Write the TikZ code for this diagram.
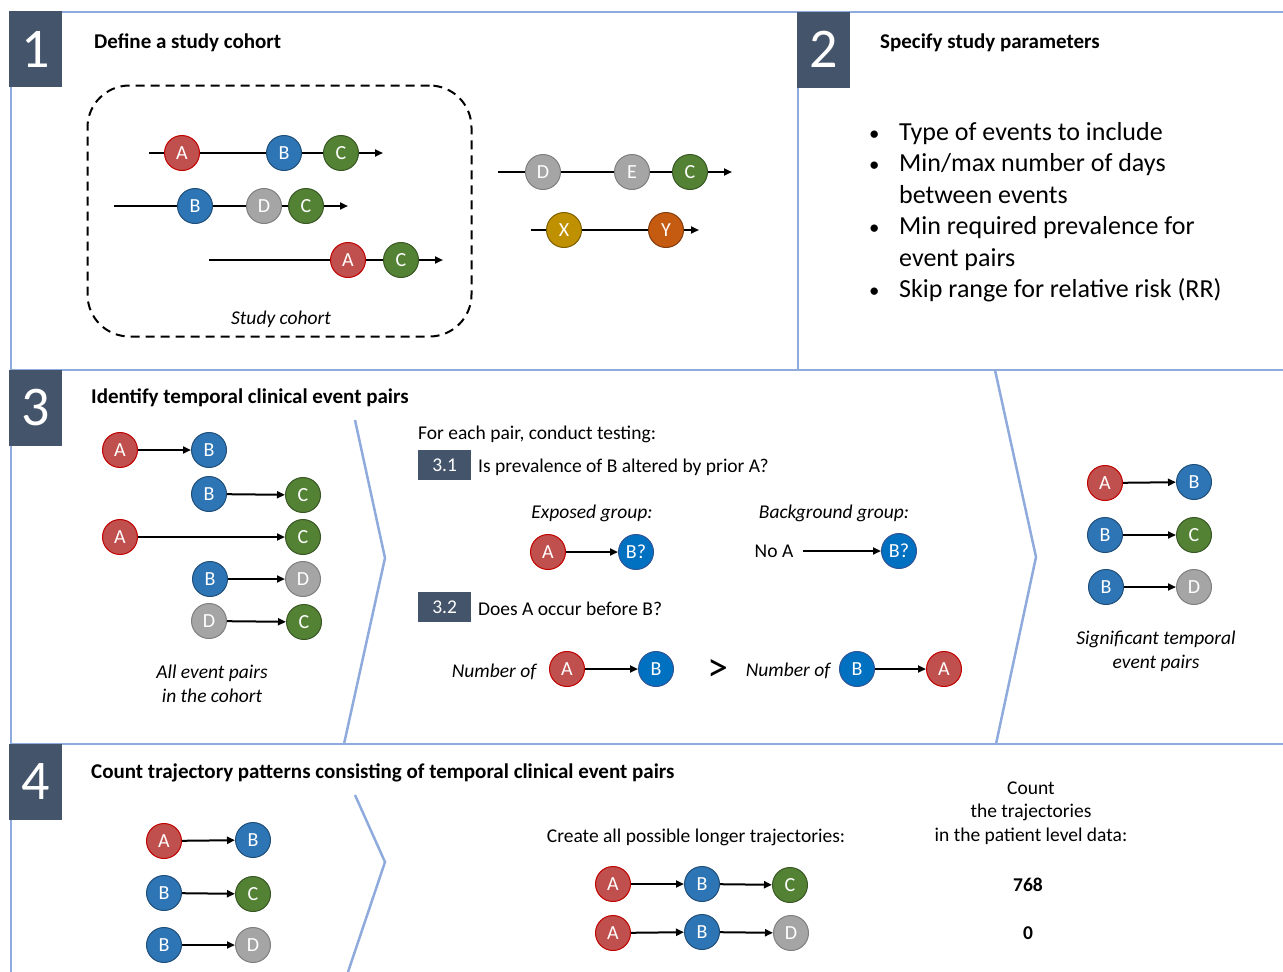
\documentclass[tikz,border=0pt]{standalone}
\usepackage{fontspec}
\setmainfont{Carlito}
\usetikzlibrary{arrows.meta}

\definecolor{panel line}{HTML}{8FAADC}
\definecolor{num box}{HTML}{44546A}
\definecolor{ev red}{HTML}{C0504D}
\definecolor{ev red edge}{HTML}{C00000}
\definecolor{ev blue}{HTML}{2E75B6}
\definecolor{ev blue edge}{HTML}{1F4E79}
\definecolor{ev bright}{HTML}{0070C0}
\definecolor{ev bright edge}{HTML}{2F5597}
\definecolor{ev green}{HTML}{548235}
\definecolor{ev green edge}{HTML}{385723}
\definecolor{ev grey}{HTML}{A5A5A5}
\definecolor{ev grey edge}{HTML}{7F7F7F}
\definecolor{ev gold}{HTML}{BF9000}
\definecolor{ev gold edge}{HTML}{7F6000}
\definecolor{ev orange}{HTML}{C55A11}
\definecolor{ev orange edge}{HTML}{843C0C}

\tikzset{panel/.style={draw=panel line, line width=2.5pt},
    numbox/.style={fill=num box, text=white, minimum width=53pt, minimum height=76pt,
      inner sep=0pt, font=\fontsize{56}{56}\selectfont},
    subbox/.style={fill=num box, text=white, minimum width=53pt, minimum height=30pt,
      inner sep=0pt, font=\fontsize{19.5}{20}\selectfont},
    heading/.style={anchor=west, inner sep=0pt, yshift=-2pt, font=\bfseries\fontsize{21}{25}\selectfont},
    body/.style={inner sep=0pt, yshift=-2pt, font=\fontsize{19.5}{23.5}\selectfont},
    note/.style={inner sep=0pt, yshift=-2pt, align=center, font=\itshape\fontsize{19.5}{24}\selectfont},
    evnode/.style={circle, minimum size=35pt, inner sep=0pt, line width=1pt, text=white,
      font=\fontsize{20}{20}\selectfont},
    evA/.style={evnode, fill=ev red, draw=ev red edge},
    evB/.style={evnode, fill=ev blue, draw=ev blue edge},
    evBq/.style={evnode, fill=ev bright, draw=ev bright edge},
    evC/.style={evnode, fill=ev green, draw=ev green edge},
    evD/.style={evnode, fill=ev grey, draw=ev grey edge},
    evX/.style={evnode, fill=ev gold, draw=ev gold edge},
    evY/.style={evnode, fill=ev orange, draw=ev orange edge},
    link/.style={line width=2pt, -{Triangle[length=8pt,width=7pt]}}}

\begin{document}
\begin{tikzpicture}[x=1pt,y=-1pt]
    \useasboundingbox (0,0) rectangle (1283,972);
    % panel frames
    \draw[panel] (11,972) -- (11,12) -- (1283,12);
    \draw[panel] (798,12) -- (798,370);
    \draw[panel] (11,370) -- (1283,370);
    \draw[panel] (11,744) -- (1283,744);
    \draw[panel] (355,420) -- (385,558) -- (344,744);
    \draw[panel] (995,370) -- (1036,557) -- (996,744);
    \draw[panel] (355,795) -- (385,862) -- (348,972);
    \node[numbox] (n1) at (35.5,49) {1};
    \node[numbox] (n2) at (823.5,49.5) {2};
    \node[numbox] (n3) at (35.5,408) {3};
    \node[numbox] (n4) at (35.5,782) {4};

    % 1: study cohort
    \node[heading] (t1) at (94,41) {Define a study cohort};
    \node[draw, dashed, dash pattern=on 9pt off 6pt, line width=2pt, rounded corners=42pt,
      minimum width=384pt, minimum height=251pt] (cohort) at (279.5,211) {};
    \node[note] (cohortlbl) at (281,317) {Study cohort};
    \coordinate (p1s) at (149,153); \coordinate (p1e) at (383,153);
    \node[evA] (p1a) at (182,153) {A};
    \node[evB] (p1b) at (284,153) {B};
    \node[evC] (p1c) at (341,153) {C};
    \draw[link] (p1s) -- (p1a) -- (p1b) -- (p1c) -- (p1e);
    \coordinate (p2s) at (114,206); \coordinate (p2e) at (348,206);
    \node[evB] (p2b) at (195,206) {B};
    \node[evD] (p2d) at (264,206) {D};
    \node[evC] (p2c) at (306,206) {C};
    \draw[link] (p2s) -- (p2b) -- (p2d) -- (p2c) -- (p2e);
    \coordinate (p3s) at (209,260); \coordinate (p3e) at (443,260);
    \node[evA] (p3a) at (348,260) {A};
    \node[evC] (p3c) at (401,260) {C};
    \draw[link] (p3s) -- (p3a) -- (p3c) -- (p3e);
    \coordinate (p4s) at (498,172); \coordinate (p4e) at (732,172);
    \node[evD] (p4d) at (543,172) {D};
    \node[evD] (p4e2) at (632,172) {E};
    \node[evC] (p4c) at (690,172) {C};
    \draw[link] (p4s) -- (p4d) -- (p4e2) -- (p4c) -- (p4e);
    \coordinate (p5s) at (531,230); \coordinate (p5e) at (699,230);
    \node[evX] (p5x) at (564,230) {X};
    \node[evY] (p5y) at (666,230) {Y};
    \draw[link] (p5s) -- (p5x) -- (p5y) -- (p5e);

    % 2: parameters
    \node[heading] (t2) at (880,41) {Specify study parameters};
    \node[anchor=west, inner sep=0pt, font=\fontsize{26}{31.5}\selectfont] (params) at (869,212.5)
      {\begin{tabular}{@{}p{30pt}@{}l@{}}
        \scalebox{0.8}{\textbullet} & Type of events to include\\
        \scalebox{0.8}{\textbullet} & Min/max number of days\\
         & between events\\
        \scalebox{0.8}{\textbullet} & Min required prevalence for\\
         & event pairs\\
        \scalebox{0.8}{\textbullet} & Skip range for relative risk (RR)
      \end{tabular}};

    % 3: event pairs
    \node[heading] (t3) at (91,396) {Identify temporal clinical event pairs};
    \node[evA] (l1a) at (120,450) {A};
    \node[evB] (l1b) at (209,450) {B};
    \node[evB] (l2b) at (209,494) {B};
    \node[evC] (l2c) at (303,495) {C};
    \node[evA] (l3a) at (120,537) {A};
    \node[evC] (l3c) at (303,537) {C};
    \node[evB] (l4b) at (210,579) {B};
    \node[evD] (l4d) at (303,579) {D};
    \node[evD] (l5d) at (209,621) {D};
    \node[evC] (l5c) at (304,622) {C};
    \draw[link] (l1a) -- (l1b);
    \draw[link] (l2b) -- (l2c);
    \draw[link] (l3a) -- (l3c);
    \draw[link] (l4b) -- (l4d);
    \draw[link] (l5d) -- (l5c);
    \node[note] (alllbl) at (212,682) {All event pairs\\in the cohort};

    \node[body, anchor=west] (foreach) at (418,432) {For each pair, conduct testing:};
    \node[subbox, anchor=west] (q1) at (418,465) {3.1};
    \node[body, anchor=west] (q1txt) at (478,465) {Is prevalence of B altered by prior A?};
    \node[note] (exposed) at (592,511) {Exposed group:};
    \node[note] (backgr) at (834,511) {Background group:};
    \node[evA] (xa) at (548,552) {A};
    \node[evBq] (xb) at (636,552) {B?};
    \draw[link] (xa) -- (xb);
    \node[body] (noa) at (774,549) {No A};
    \node[evBq] (gb) at (899,551) {B?};
    \draw[link, shorten <=10pt] (noa) -- (gb);
    \node[subbox, anchor=west] (q2) at (418,607) {3.2};
    \node[body, anchor=west] (q2txt) at (478,607) {Does A occur before B?};
    \node[note] (num1) at (494,670) {Number of};
    \node[evA] (fa) at (567,669) {A};
    \node[evBq] (fb) at (656,669) {B};
    \draw[link] (fa) -- (fb);
    \node[inner sep=0pt, font=\fontsize{42}{42}\selectfont] (gt) at (718,670) {>};
    \node[note] (num2) at (788,669) {Number of};
    \node[evBq] (rb) at (857,669) {B};
    \node[evA] (ra) at (944,669) {A};
    \draw[link] (rb) -- (ra);

    \node[evA] (s1a) at (1105,483) {A};
    \node[evB] (s1b) at (1194,482) {B};
    \node[evB] (s2b) at (1105,535) {B};
    \node[evC] (s2c) at (1194,535) {C};
    \node[evB] (s3b) at (1106,587) {B};
    \node[evD] (s3d) at (1194,587) {D};
    \draw[link] (s1a) -- (s1b);
    \draw[link] (s2b) -- (s2c);
    \draw[link] (s3b) -- (s3d);
    \node[note] (siglbl) at (1156,649) {Significant temporal\\event pairs};

    % 4: trajectories
    \node[heading] (t4) at (91,771) {Count trajectory patterns consisting of temporal clinical event pairs};
    \node[evA] (k1a) at (164,841) {A};
    \node[evB] (k1b) at (253,840) {B};
    \node[evB] (k2b) at (164,893) {B};
    \node[evC] (k2c) at (253,894) {C};
    \node[evB] (k3b) at (164,945) {B};
    \node[evD] (k3d) at (253,945) {D};
    \draw[link] (k1a) -- (k1b);
    \draw[link] (k2b) -- (k2c);
    \draw[link] (k3b) -- (k3d);
    \node[body] (create) at (696,835) {Create all possible longer trajectories:};
    \node[evA] (j1a) at (613,884) {A};
    \node[evB] (j1b) at (702,884) {B};
    \node[evC] (j1c) at (790,885) {C};
    \node[evA] (j2a) at (613,933) {A};
    \node[evB] (j2b) at (702,932) {B};
    \node[evD] (j2d) at (791,933) {D};
    \draw[link] (j1a) -- (j1b);
    \draw[link] (j1b) -- (j1c);
    \draw[link] (j2a) -- (j2b);
    \draw[link] (j2b) -- (j2d);
    \node[body, align=center] (count) at (1031,811) {Count\\the trajectories\\in the patient level data:};
    \node[body, font=\bfseries\fontsize{19.5}{23.5}\selectfont] (c768) at (1028,883) {768};
    \node[body, font=\bfseries\fontsize{19.5}{23.5}\selectfont] (c0) at (1028,931) {0};
  \end{tikzpicture}
\end{document}
